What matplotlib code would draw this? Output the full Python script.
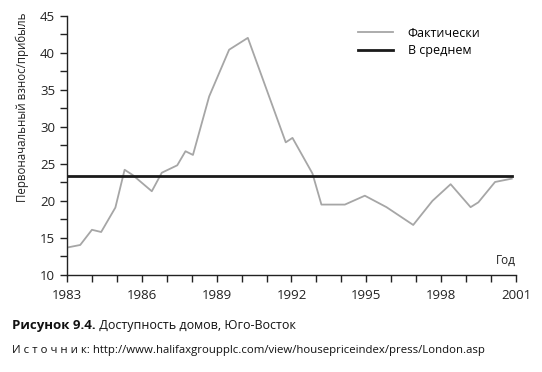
import numpy as np
import matplotlib.pyplot as plt
from matplotlib.ticker import MultipleLocator

plt.rcParams['font.family'] = ['Open Sans', 'DejaVu Sans']

years = [1983.0, 1983.53, 1984.0, 1984.37, 1984.94, 1985.31, 1985.63, 1986.4,
         1986.8, 1987.42, 1987.75, 1988.05, 1988.7, 1989.5, 1990.25, 1991.77,
         1992.04, 1992.84, 1993.2, 1994.14, 1994.94, 1995.81, 1996.88, 1997.65,
         1998.38, 1999.18, 1999.49, 2000.16, 2000.83]
actual = [13.7, 14.05, 16.1, 15.8, 19.1, 24.2, 23.5, 21.3,
          23.8, 24.8, 26.7, 26.2, 34.1, 40.4, 42.0, 27.9,
          28.5, 23.7, 19.5, 19.5, 20.7, 19.15, 16.75, 20.0,
          22.25, 19.15, 19.8, 22.55, 23.0]
avg_years = [1983.0, 2000.85]
avg_value = 23.4

fig = plt.figure(figsize=(5.42, 3.72), dpi=100)
ax = fig.add_axes([0.1236, 0.2608, 0.8284, 0.6972])

ax.plot(years, actual, color='#a6a6a6', lw=1.3, label='Фактически')
ax.plot(avg_years, [avg_value, avg_value], color='#1a1a1a', lw=2.0, label='В среднем')

ax.set_xlim(1983, 2001)
ax.set_ylim(10, 45)
ax.set_xticks(np.arange(1983, 2002, 3))
ax.xaxis.set_minor_locator(MultipleLocator(1))
ax.yaxis.set_major_locator(MultipleLocator(5))
ax.yaxis.set_minor_locator(MultipleLocator(2.5))
for s in ['top', 'right']:
    ax.spines[s].set_visible(False)
for s in ['left', 'bottom']:
    ax.spines[s].set_color('#222222')
    ax.spines[s].set_linewidth(1.0)
ax.tick_params(which='both', direction='out', length=5, width=1, colors='#222222',
               labelsize=9.5, labelcolor='#222222')
ax.tick_params(axis='x', pad=5)

fig.text(22/542, 1 - 13/372, 'Первоначальный взнос/прибыль', rotation=90,
         ha='center', va='top', fontsize=8.3, color='#222222')
ax.text(1.0, 0.03, 'Год', transform=ax.transAxes, ha='right', va='bottom',
        fontsize=8.5, color='#222222')

ax.legend(loc='upper left', bbox_to_anchor=(0.622, 1.0), frameon=False, fontsize=9,
          handlelength=2.8, handletextpad=1.2, labelspacing=0.35)

t1 = fig.text(0.022, 0.115, 'Рисунок 9.4.', fontsize=9.5, fontweight='bold', color='#111111')
ax.annotate(' Доступность домов, Юго-Восток', xy=(1, 0), xycoords=t1,
            ha='left', va='bottom', fontsize=9, color='#111111')
fig.text(0.022, 0.052, 'И с т о ч н и к: http://www.halifaxgroupplc.com/view/housepriceindex/press/London.asp',
         fontsize=8.2, color='#111111')

fig.savefig('out.png', dpi=100)
